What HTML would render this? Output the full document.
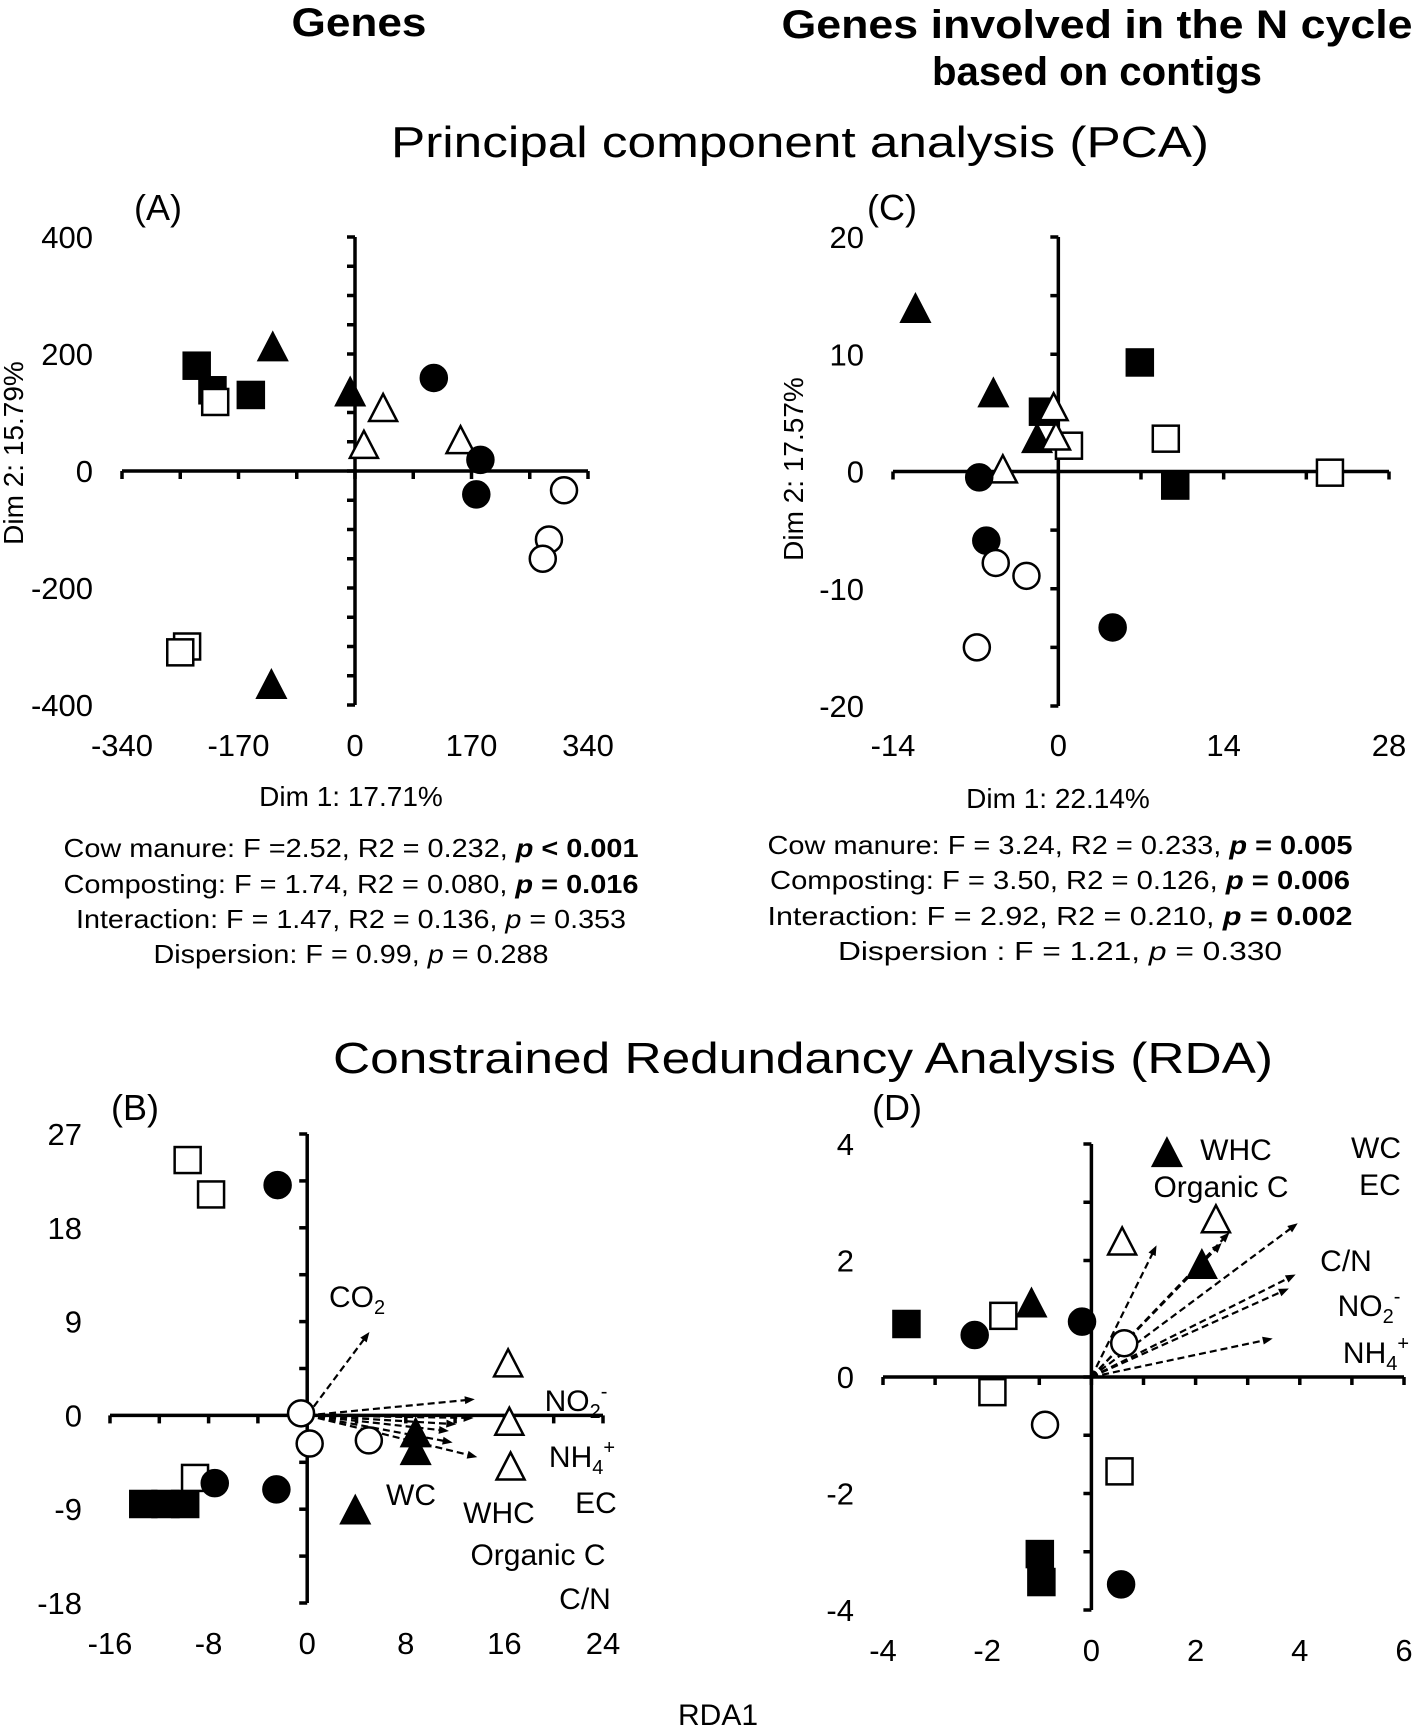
<!DOCTYPE html>
<html><head><meta charset="utf-8"><style>
body{margin:0;background:#fff}
svg{display:block;font-family:"Liberation Sans",Arial,sans-serif}
</style></head><body>
<svg id="fig" width="1417" height="1732" viewBox="0 0 1417 1732" xmlns="http://www.w3.org/2000/svg">
<text x="359" y="36" font-size="40" font-weight="bold" text-anchor="middle" textLength="135" lengthAdjust="spacingAndGlyphs">Genes</text>
<text x="1097" y="38" font-size="40" font-weight="bold" text-anchor="middle" textLength="631" lengthAdjust="spacingAndGlyphs">Genes involved in the N cycle</text>
<text x="1097" y="85" font-size="40" font-weight="bold" text-anchor="middle" textLength="330" lengthAdjust="spacingAndGlyphs">based on contigs</text>
<text x="800" y="157" font-size="44" text-anchor="middle" textLength="818" lengthAdjust="spacingAndGlyphs">Principal component analysis (PCA)</text>
<text x="803" y="1073" font-size="44" text-anchor="middle" textLength="940" lengthAdjust="spacingAndGlyphs">Constrained Redundancy Analysis (RDA)</text>

<text x="158" y="220" font-size="36" text-anchor="middle">(A)</text>
<text x="892" y="220" font-size="36" text-anchor="middle">(C)</text>
<text x="135" y="1120" font-size="36" text-anchor="middle">(B)</text>
<text x="897" y="1120" font-size="36" text-anchor="middle">(D)</text>

<text x="351" y="806" font-size="28" text-anchor="middle">Dim 1: 17.71%</text>
<text x="1058" y="808" font-size="28" text-anchor="middle">Dim 1: 22.14%</text>
<text transform="translate(23,453) rotate(-90)" font-size="28" text-anchor="middle">Dim 2: 15.79%</text>
<text transform="translate(803,469) rotate(-90)" font-size="28" text-anchor="middle">Dim 2: 17.57%</text>
<text x="718" y="1725" font-size="30" text-anchor="middle">RDA1</text>

<g font-size="26" text-anchor="middle">
<text x="351" y="857" textLength="575" lengthAdjust="spacingAndGlyphs">Cow manure: F =2.52, R2 = 0.232, <tspan font-weight="bold" font-style="italic">p</tspan><tspan font-weight="bold"> &lt; 0.001</tspan></text>
<text x="351" y="893" textLength="575" lengthAdjust="spacingAndGlyphs">Composting: F = 1.74, R2 = 0.080, <tspan font-weight="bold" font-style="italic">p</tspan><tspan font-weight="bold"> = 0.016</tspan></text>
<text x="351" y="928" textLength="550" lengthAdjust="spacingAndGlyphs">Interaction: F = 1.47, R2 = 0.136, <tspan font-style="italic">p</tspan> = 0.353</text>
<text x="351" y="963" textLength="395" lengthAdjust="spacingAndGlyphs">Dispersion: F = 0.99, <tspan font-style="italic">p</tspan> = 0.288</text>
</g>
<g font-size="26" text-anchor="middle">
<text x="1060" y="854" textLength="585" lengthAdjust="spacingAndGlyphs">Cow manure: F = 3.24, R2 = 0.233, <tspan font-weight="bold" font-style="italic">p</tspan><tspan font-weight="bold"> = 0.005</tspan></text>
<text x="1060" y="889" textLength="580" lengthAdjust="spacingAndGlyphs">Composting: F = 3.50, R2 = 0.126, <tspan font-weight="bold" font-style="italic">p</tspan><tspan font-weight="bold"> = 0.006</tspan></text>
<text x="1060" y="925" textLength="585" lengthAdjust="spacingAndGlyphs">Interaction: F = 2.92, R2 = 0.210, <tspan font-weight="bold" font-style="italic">p</tspan><tspan font-weight="bold"> = 0.002</tspan></text>
<text x="1060" y="960" textLength="444" lengthAdjust="spacingAndGlyphs">Dispersion : F = 1.21, <tspan font-style="italic">p</tspan> = 0.330</text>
</g>
<g id="plots"></g>
<g font-size="30" text-anchor="middle">
<text x="357" y="1307">CO<tspan font-size="20" dy="7">2</tspan></text>
<text x="576" y="1411">NO<tspan font-size="20" dy="7">2</tspan><tspan font-size="20" dy="-20">-</tspan></text>
<text x="582" y="1467">NH<tspan font-size="20" dy="7">4</tspan><tspan font-size="20" dy="-20">+</tspan></text>
<text x="596" y="1513">EC</text>
<text x="411" y="1505">WC</text>
<text x="499" y="1523">WHC</text>
<text x="538" y="1565">Organic C</text>
<text x="585" y="1609">C/N</text>
<text x="1236" y="1160">WHC</text>
<text x="1221" y="1197">Organic C</text>
<text x="1376" y="1158">WC</text>
<text x="1380" y="1195">EC</text>
<text x="1346" y="1271">C/N</text>
<text x="1369" y="1316">NO<tspan font-size="20" dy="7">2</tspan><tspan font-size="20" dy="-20">-</tspan></text>
<text x="1376" y="1363">NH<tspan font-size="20" dy="7">4</tspan><tspan font-size="20" dy="-20">+</tspan></text>
</g>
</svg>
<script>
// Panel A data (PCA genes)
const aFilledSquareX=[-231,-208,-152], aFilledSquareY=[180,138,130];
const aOpenSquareX=[-204,-245,-255], aOpenSquareY=[118,-300,-310];
const aFilledTriX=[-120,-7,-122], aFilledTriY=[210,133,-367];
const aOpenTriX=[41,13,154], aOpenTriY=[106,43,51];
const aFilledCircX=[115,183,177], aFilledCircY=[159,19,-40];
const aOpenCircX=[305,283,274], aOpenCircY=[-33,-117,-150];
const aXTicks=[-340,-170,0,170,340], aYTicks=[400,200,0,-200,-400];
// Panel C data (PCA N cycle)
const cFilledSquareX=[-1.3,6.9,9.9], cFilledSquareY=[5.1,9.3,-1.2];
const cOpenSquareX=[0.9,9.1,23], cOpenSquareY=[2.2,2.8,-0.1];
const cFilledTriX=[-12.1,-5.5,-1.8], cFilledTriY=[13.8,6.6,2.7];
const cOpenTriX=[-0.4,-0.2,-4.7], cOpenTriY=[5.4,2.9,0.1];
const cFilledCircX=[-6.7,-6.1,4.6], cFilledCircY=[-0.5,-5.9,-13.3];
const cOpenCircX=[-5.3,-2.7,-6.9], cOpenCircY=[-7.8,-8.9,-15];
const cXTicks=[-14,0,14,28], cYTicks=[20,10,0,-10,-20];
// Panel B data (RDA genes)
const bFilledSquareX=[-13.3,-11.5,-9.9], bFilledSquareY=[-8.5,-8.5,-8.5];
const bOpenSquareX=[-9.7,-7.8,-9.1], bOpenSquareY=[24.5,21.2,-6.0];
const bFilledTriX=[3.9,8.8,8.8], bFilledTriY=[-9.2,-1.8,-3.5];
const bOpenTriX=[16.3,16.4,16.5], bOpenTriY=[4.9,-0.7,-5.0];
const bFilledCircX=[-2.4,-7.5,-2.5], bFilledCircY=[22.1,-6.5,-7.1];
const bOpenCircX=[-0.5,0.2,5], bOpenCircY=[0.2,-2.7,-2.4];
const bArrowX=[5.05,13.6,13.5,12.1,11.8,13.8,11.5], bArrowY=[8.0,1.55,-0.25,-0.85,-2.6,-4.0,-1.5];
const bXTicks=[-16,-8,0,8,16,24], bYTicks=[27,18,9,0,-9,-18];
// Panel D data (RDA N cycle)
const dFilledSquareX=[-3.55,-0.99,-0.96], dFilledSquareY=[0.91,-3.04,-3.52];
const dOpenSquareX=[-1.69,-1.9,0.54], dOpenSquareY=[1.05,-0.26,-1.62];
const dFilledTriX=[-1.15,2.12,1.45], dFilledTriY=[1.25,1.91,3.83];
const dOpenTriX=[0.59,2.39], dOpenTriY=[2.31,2.69];
const dFilledCircX=[-2.24,-0.18,0.57], dFilledCircY=[0.72,0.95,-3.56];
const dOpenCircX=[-0.89,0.63], dOpenCircY=[-0.82,0.58];
const dArrowX=[1.25,2.65,3.96,3.92,3.79,3.48,2.5], dArrowY=[2.26,2.48,2.64,1.76,1.52,0.66,2.3];
const dXTicks=[-4,-2,0,2,4,6], dYTicks=[4,2,0,-2,-4];

const NS="http://www.w3.org/2000/svg";
const root=document.getElementById('plots');
function mk(tag,attrs,parent){const e=document.createElementNS(NS,tag);for(const k in attrs)e.setAttribute(k,attrs[k]);(parent||root).appendChild(e);return e;}

function panel(id,cfg){
  const g=mk('g',{});
  
  
  const sx=v=>cfg.x0+(v-cfg.xmin)/(cfg.xmax-cfg.xmin)*(cfg.x1-cfg.x0);
  const sy=v=>cfg.y0+(cfg.ymax-v)/(cfg.ymax-cfg.ymin)*(cfg.y1-cfg.y0);
  const ox=sx(0), oy=sy(0);
  const ax=mk('g',{stroke:'#000','stroke-width':3.5},g);
  
  
  mk('line',{x1:cfg.x0,y1:oy,x2:cfg.x1,y2:oy},ax);
  mk('line',{x1:ox,y1:cfg.y0,x2:ox,y2:cfg.y1},ax);
  for(let v=cfg.xmin;v<=cfg.xmax+1e-9;v+=cfg.xminor){mk('line',{x1:sx(v),y1:oy,x2:sx(v),y2:oy+8},ax);}
  for(let v=cfg.ymin;v<=cfg.ymax+1e-9;v+=cfg.yminor){mk('line',{x1:ox,y1:sy(v),x2:ox-8,y2:sy(v)},ax);}
  cfg.xt.forEach(v=>{const t=mk('text',{x:sx(v),y:cfg.xly+11,'font-size':31,'text-anchor':'middle'},g);t.textContent=v;
    
    });
  cfg.yt.forEach(v=>{const t=mk('text',{x:cfg.ylx,y:sy(v)+11,'font-size':31,'text-anchor':'end'},g);t.textContent=v;
    
    });
  if(cfg.ax){
    const ag=mk('g',{stroke:'#000','stroke-width':2.2,'stroke-dasharray':'7,4',fill:'none'},g);
    
    
    cfg.ax.forEach((v,i)=>{
      const x2=sx(v),y2=sy(cfg.ay[i]);const a=Math.atan2(y2-oy,x2-ox);
      const l=mk('line',{x1:ox,y1:oy,x2:x2-6*Math.cos(a),y2:y2-6*Math.sin(a)},ag);
      
      
      const h=mk('polygon',{points:`${x2},${y2} ${x2-10*Math.cos(a)+4*Math.sin(a)},${y2-10*Math.sin(a)-4*Math.cos(a)} ${x2-10*Math.cos(a)-4*Math.sin(a)},${y2-10*Math.sin(a)+4*Math.cos(a)}`,fill:'#000',stroke:'none'},ag);
      
      
    });
  }
  const draw=(xs,ys,shape,filled,name)=>{xs.forEach((v,i)=>{
    const cx=sx(v),cy=sy(ys[i]);let e;
    const st={fill:filled?'#000':'#fff',stroke:'#000','stroke-width':2.5};
    if(shape==='sq')e=mk('rect',Object.assign({x:cx-13,y:cy-13,width:26,height:26},st),g);
    else if(shape==='ci')e=mk('circle',Object.assign({cx:cx,cy:cy,r:13},st),g);
    else e=mk('polygon',Object.assign({points:`${cx},${cy-15} ${cx+14},${cy+12} ${cx-14},${cy+12}`},st),g);
    
    
  });};
  const d=cfg.d;
  draw(d[0],d[1],'sq',true,'filled-square-point');
  draw(d[2],d[3],'sq',false,'open-square-point');
  draw(d[4],d[5],'tr',true,'filled-triangle-point');
  draw(d[6],d[7],'tr',false,'open-triangle-point');
  draw(d[8],d[9],'ci',true,'filled-circle-point');
  draw(d[10],d[11],'ci',false,'open-circle-point');
}
panel('a',{x0:122,x1:588,xmin:-340,xmax:340,y0:237,y1:705,ymin:-400,ymax:400,xminor:85,yminor:50,xt:aXTicks,yt:aYTicks,xly:745,ylx:93,
  d:[aFilledSquareX,aFilledSquareY,aOpenSquareX,aOpenSquareY,aFilledTriX,aFilledTriY,aOpenTriX,aOpenTriY,aFilledCircX,aFilledCircY,aOpenCircX,aOpenCircY]});
panel('c',{x0:893,x1:1389,xmin:-14,xmax:28,y0:237,y1:706,ymin:-20,ymax:20,xminor:7,yminor:5,xt:cXTicks,yt:cYTicks,xly:745,ylx:864,
  d:[cFilledSquareX,cFilledSquareY,cOpenSquareX,cOpenSquareY,cFilledTriX,cFilledTriY,cOpenTriX,cOpenTriY,cFilledCircX,cFilledCircY,cOpenCircX,cOpenCircY]});
panel('b',{x0:110,x1:603,xmin:-16,xmax:24,y0:1134,y1:1603,ymin:-18,ymax:27,xminor:4,yminor:4.5,xt:bXTicks,yt:bYTicks,xly:1643,ylx:82,ax:bArrowX,ay:bArrowY,
  d:[bFilledSquareX,bFilledSquareY,bOpenSquareX,bOpenSquareY,bFilledTriX,bFilledTriY,bOpenTriX,bOpenTriY,bFilledCircX,bFilledCircY,bOpenCircX,bOpenCircY]});
panel('d',{x0:883,x1:1404,xmin:-4,xmax:6,y0:1144,y1:1610,ymin:-4,ymax:4,xminor:1,yminor:1,xt:dXTicks,yt:dYTicks,xly:1650,ylx:854,ax:dArrowX,ay:dArrowY,
  d:[dFilledSquareX,dFilledSquareY,dOpenSquareX,dOpenSquareY,dFilledTriX,dFilledTriY,dOpenTriX,dOpenTriY,dFilledCircX,dFilledCircY,dOpenCircX,dOpenCircY]});
</script>
</body></html>
